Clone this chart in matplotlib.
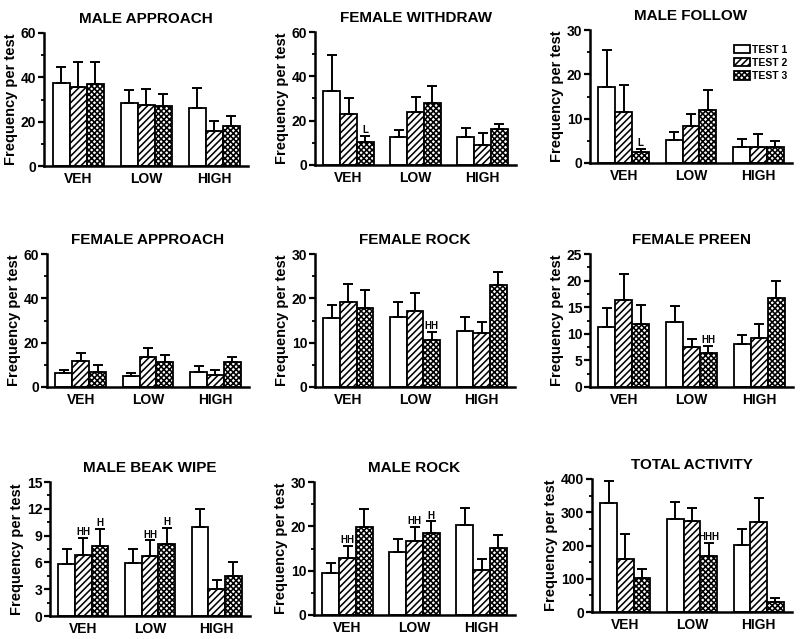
##
## === DEPENDENCIES
##

import matplotlib

matplotlib.use("Agg")
import matplotlib.pyplot as plt
from matplotlib.patches import Patch
from matplotlib.ticker import MultipleLocator

##
## === DATA
##

DOSES = ["VEH", "LOW", "HIGH"]
TESTS = ["TEST 1", "TEST 2", "TEST 3"]
TITLES = [
    "MALE APPROACH", "FEMALE WITHDRAW", "MALE FOLLOW",
    "FEMALE APPROACH", "FEMALE ROCK", "FEMALE PREEN",
    "MALE BEAK WIPE", "MALE ROCK", "TOTAL ACTIVITY",
]

## means[test][dose], sems[test][dose]
male_approach_mean = [[37.4, 28.4, 26.2], [35.6, 27.5, 15.6], [37.1, 27.1, 17.9]]
male_approach_sem = [[7.3, 5.7, 9.1], [11.3, 7.2, 4.6], [9.7, 5.4, 4.8]]
female_withdraw_mean = [[33.6, 12.5, 12.7], [23.1, 24.0, 9.0], [10.3, 27.9, 16.3]]
female_withdraw_sem = [[16.1, 3.3, 4.2], [7.2, 6.5, 5.3], [2.8, 7.8, 2.1]]
male_follow_mean = [[17.1, 5.2, 3.6], [11.4, 8.25, 3.5], [2.5, 11.85, 3.5]]
male_follow_sem = [[8.3, 1.7, 1.8], [6.2, 2.75, 3.0], [0.7, 4.65, 1.4]]
female_approach_mean = [[6.3, 5.1, 6.9], [11.9, 13.4, 5.3], [6.9, 11.1, 11.1]]
female_approach_sem = [[1.5, 1.2, 2.6], [3.4, 4.0, 2.4], [3.0, 3.3, 2.3]]
female_rock_mean = [[15.5, 15.9, 12.7], [19.2, 17.2, 12.2], [17.8, 10.5, 23.1]]
female_rock_sem = [[2.9, 3.3, 3.0], [4.0, 4.0, 2.5], [4.0, 1.9, 2.8]]
female_preen_mean = [[11.3, 12.2, 8.1], [16.3, 7.5, 9.2], [11.8, 6.3, 16.7]]
female_preen_sem = [[3.6, 3.0, 1.7], [4.9, 1.6, 2.6], [3.7, 1.4, 3.2]]
male_beak_wipe_mean = [[5.86, 5.93, 9.93], [6.8, 6.72, 3.02], [7.84, 8.02, 4.51]]
male_beak_wipe_sem = [[1.68, 1.53, 2.07], [1.93, 1.75, 1.01], [1.94, 1.87, 1.57]]
male_rock_mean = [[9.45, 14.25, 20.4], [12.9, 16.7, 10.1], [19.9, 18.6, 15.2]]
male_rock_sem = [[2.25, 2.95, 3.7], [2.7, 3.2, 2.5], [4.0, 2.55, 2.8]]
total_activity_mean = [[329, 281, 203], [158, 274, 271], [103, 168, 29]]
total_activity_sem = [[64, 50, 46], [78, 39, 72], [25, 39, 14]]

Y_MAX = [60, 60, 30, 60, 30, 25, 15, 30, 400]
Y_STEP = [20, 20, 10, 20, 10, 5, 3, 10, 100]

## (panel, dose index, test index, label)
MARKS = [
    (1, 0, 2, "L"),
    (2, 0, 2, "L"),
    (4, 1, 2, "HH"),
    (5, 1, 2, "HH"),
    (6, 0, 1, "HH"), (6, 0, 2, "H"), (6, 1, 1, "HH"), (6, 1, 2, "H"),
    (7, 0, 1, "HH"), (7, 1, 1, "HH"), (7, 1, 2, "H"),
    (8, 1, 2, "HHH"),
]

##
## === LAYOUT
##

FIG_W, FIG_H = 800, 639
## axes boxes in pixels: left, top, right, bottom
PANEL_BOXES = [
    (44, 33, 248, 166), (315, 32, 516, 165), (590, 30, 792, 163),
    (47, 254, 249, 387), (315, 254, 515, 387), (590, 254, 793, 387),
    (50, 482, 250, 616), (314, 482, 515, 615), (592, 479, 792, 612),
]
HATCHES = ["", "/////", "xxxxxx"]


def main() -> None:
    plt.rcParams["font.family"] = ["Liberation Sans", "DejaVu Sans"]
    plt.rcParams["font.weight"] = "bold"
    plt.rcParams["axes.titleweight"] = "bold"
    plt.rcParams["axes.labelweight"] = "bold"
    plt.rcParams["hatch.linewidth"] = 1.15

    means = [
        male_approach_mean, female_withdraw_mean, male_follow_mean,
        female_approach_mean, female_rock_mean, female_preen_mean,
        male_beak_wipe_mean, male_rock_mean, total_activity_mean,
    ]
    sems = [
        male_approach_sem, female_withdraw_sem, male_follow_sem,
        female_approach_sem, female_rock_sem, female_preen_sem,
        male_beak_wipe_sem, male_rock_sem, total_activity_sem,
    ]

    fig = plt.figure(figsize=(FIG_W / 100, FIG_H / 100), dpi=100)
    group_x = [0, 4, 8]
    axes = []
    for idx, (left, top, right, bottom) in enumerate(PANEL_BOXES):
        ax = fig.add_axes([
            left / FIG_W,
            1 - bottom / FIG_H,
            (right - left) / FIG_W,
            (bottom - top) / FIG_H,
        ])
        axes.append(ax)
        for t in range(3):
            xs = [g + (t - 1) for g in group_x]
            ax.bar(
                xs,
                means[idx][t],
                width=1.0,
                color="white",
                edgecolor="black",
                linewidth=1.3,
                hatch=HATCHES[t],
                yerr=[[0, 0, 0], sems[idx][t]],
                error_kw=dict(ecolor="black", elinewidth=1.4, capsize=3.5, capthick=1.4),
                zorder=2,
            )
        ax.set_xlim(-2.0, 10.0)
        ax.set_ylim(0, Y_MAX[idx])
        ax.yaxis.set_major_locator(MultipleLocator(Y_STEP[idx]))
        ax.yaxis.set_minor_locator(MultipleLocator(Y_STEP[idx] / 2))
        ax.set_xticks(group_x)
        ax.set_xticklabels(DOSES)
        ax.tick_params(axis="x", length=0, pad=4, labelsize=10)
        ax.tick_params(axis="y", which="major", length=4, width=1.6, pad=1.5, labelsize=10)
        ax.tick_params(axis="y", which="minor", length=2, width=1.3)
        for side in ("top", "right"):
            ax.spines[side].set_visible(False)
        for side in ("left", "bottom"):
            ax.spines[side].set_linewidth(1.8)
        ax.set_title(TITLES[idx], fontsize=11, pad=7)
        ax.set_ylabel("Frequency per test", fontsize=10.5, labelpad=2)

    for panel, dose, test, label in MARKS:
        x = group_x[dose] + (test - 1)
        y = means[panel][test][dose] + sems[panel][test][dose]
        axes[panel].annotate(
            label,
            xy=(x, y),
            xytext=(0, 0.5),
            textcoords="offset points",
            ha="center",
            va="bottom",
            fontsize=7,
        )

    handles = [
        Patch(facecolor="white", edgecolor="black", linewidth=1.3, hatch=h) for h in HATCHES
    ]
    axes[2].legend(
        handles,
        TESTS,
        loc="upper left",
        bbox_to_anchor=(0.69, 0.92),
        frameon=False,
        fontsize=7.5,
        handlelength=1.6,
        handleheight=0.85,
        handletextpad=0.15,
        labelspacing=0.3,
        borderaxespad=0,
    )

    fig.savefig("out.png", dpi=100)


if __name__ == "__main__":
    main()
